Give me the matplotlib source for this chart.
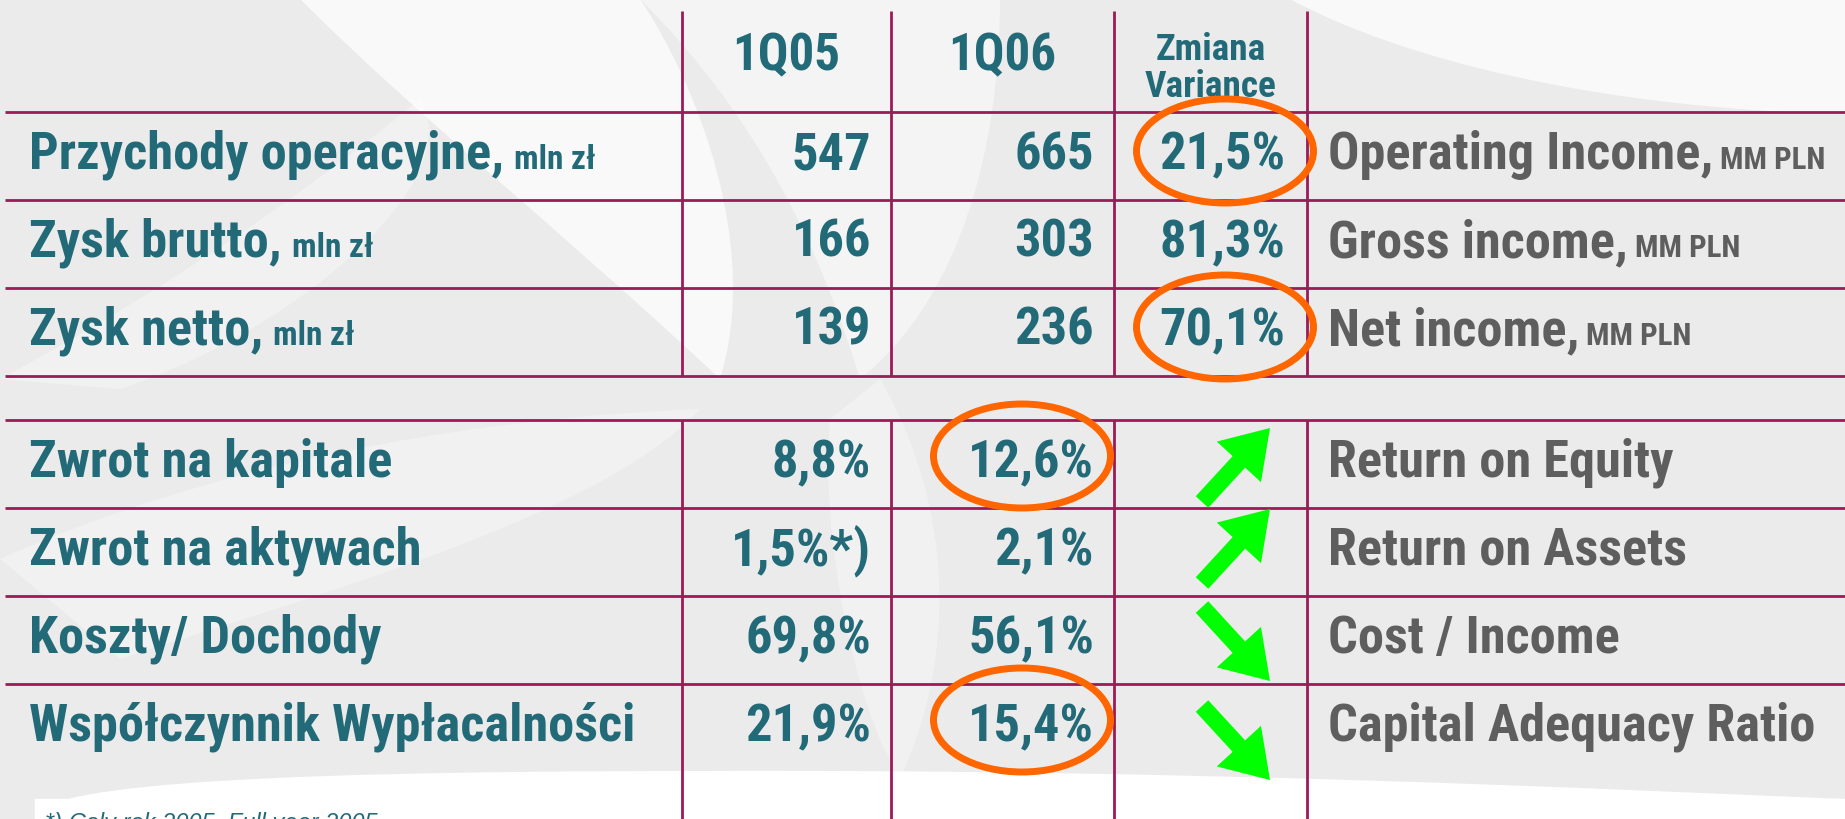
import matplotlib
matplotlib.use("Agg")
import matplotlib.pyplot as plt
from matplotlib.patches import Ellipse, FancyArrow, PathPatch, Rectangle
from matplotlib.path import Path
from matplotlib import font_manager
from matplotlib.font_manager import FontProperties

# ---------------- data ----------------
col_headers = ["1Q05", "1Q06"]
var_header = ["Zmiana", "Variance"]

top_labels_pl = ["Przychody operacyjne,", "Zysk brutto,", "Zysk netto,"]
top_unit_pl = "mln zł"
top_labels_en = ["Operating Income,", "Gross income,", "Net income,"]
top_unit_en = "MM PLN"
top_q05 = ["547", "166", "139"]
top_q06 = ["665", "303", "236"]
top_var = ["21,5%", "81,3%", "70,1%"]
top_var_circled = [True, False, True]

bot_labels_pl = ["Zwrot na kapitale", "Zwrot na aktywach", "Koszty/ Dochody",
                 "Współczynnik Wypłacalności"]
bot_labels_en = ["Return on Equity", "Return on Assets", "Cost / Income",
                 "Capital Adequacy Ratio"]
bot_q05 = ["8,8%", "1,5%*)", "69,8%", "21,9%"]
bot_q06 = ["12,6%", "2,1%", "56,1%", "15,4%"]
bot_trend = ["up", "up", "down", "down"]
bot_q06_circled = [True, False, False, True]

footnote = "*) Cały rok 2005, Full year 2005"

# ---------------- style ----------------
W, H = 1845, 820
TEAL = "#236a79"
GRAY = "#5e5e5e"
LINE = "#9c1b55"
ORANGE = "#ff6600"
GREEN = "#00ff00"


def _w(f):
    if isinstance(f.weight, (int, float)):
        return int(f.weight)
    return {"bold": 700, "normal": 400, "regular": 400, "medium": 500,
            "semibold": 600, "light": 300}.get(str(f.weight).lower(), 400)


def pick_condensed():
    prefs = ["Liberation Sans Narrow", "Arial Narrow", "Roboto Condensed",
             "Open Sans Condensed", "Noto Sans", "Open Sans", "DejaVu Sans",
             "Roboto"]
    cands = []
    for f in font_manager.fontManager.ttflist:
        low = (f.name + " " + f.fname).lower()
        cond = ("narrow" in low or "condensed" in low or "cond" in str(f.stretch))
        if cond and _w(f) >= 650 and f.style == "normal" and "mono" not in low \
                and "extra" not in low and "ultra" not in low and "semi" not in low:
            rank = prefs.index(f.name) if f.name in prefs else len(prefs)
            cands.append((rank, abs(_w(f) - 700), f.fname))
    if cands:
        cands.sort()
        return FontProperties(fname=cands[0][2])
    return FontProperties(family=["Liberation Sans", "DejaVu Sans"], weight="bold")


FP = pick_condensed()

fig = plt.figure(figsize=(W / 100, H / 100), dpi=100)
ax = fig.add_axes([0, 0, 1, 1])
ax.set_xlim(0, W)
ax.set_ylim(H, 0)
ax.axis("off")

fig.canvas.draw()
renderer = fig.canvas.get_renderer()
inv = ax.transData.inverted()

# calibrate size so that the longest label matches the reference width
probe = ax.text(0, 0, "Przychody operacyjne,", fontproperties=FP, fontsize=38)
pw = probe.get_window_extent(renderer).width
probe.remove()
S = min(1.25, 475.0 / pw)

BIG = 38 * S
HEAD = 37 * S
VAR = 27 * S
SMALL_PL = 24 * S
SMALL_EN = 22.5 * S

# ---------------- background ----------------
ax.add_patch(Rectangle((0, 0), W, H, color="#ebebeb", zorder=0))


def blob(pts, color="white", alpha=0.8):
    codes = [Path.MOVETO] + [Path.CURVE4] * (len(pts) - 2) + [Path.CLOSEPOLY]
    ax.add_patch(PathPatch(Path(pts, codes), facecolor=color, edgecolor="none",
                           alpha=alpha, zorder=0.5))


blob([(300, 0), (420, 120), (560, 230), (720, 380),
      (760, 250), (700, 90), (640, 0), (300, 0)], alpha=0.7)
blob([(640, 0), (760, 120), (820, 250), (860, 380),
      (960, 300), (1000, 150), (1000, 0), (640, 0)], alpha=0.45)
blob([(1290, 0), (1400, 60), (1600, 110), (1845, 115),
      (1845, 60), (1845, 20), (1845, 0), (1290, 0)], alpha=0.7)
blob([(0, 380), (150, 300), (300, 200), (420, 100),
      (470, 180), (300, 330), (120, 390), (0, 380)], alpha=0.35)
blob([(0, 560), (200, 470), (450, 420), (700, 410),
      (600, 520), (300, 600), (120, 660), (0, 560)], alpha=0.3)
blob([(880, 380), (950, 500), (960, 650), (900, 780),
      (850, 700), (820, 520), (830, 420), (880, 380)], alpha=0.3)
blob([(35, 820), (35, 790), (200, 772), (700, 772),
      (1200, 770), (1600, 790), (1845, 800), (1845, 820)], alpha=1.0)
ax.add_patch(Rectangle((35, 800), W, 30, color="white", zorder=0.5))

# ---------------- grid ----------------
vx = [682, 891, 1114, 1307]
top_rows = [113, 201, 289, 377]
bot_rows = [421, 509, 597, 685]
lw = 2.0
for x in vx:
    ax.plot([x, x], [12, top_rows[-1]], color=LINE, lw=lw, zorder=2, solid_capstyle="butt")
    ax.plot([x, x], [bot_rows[0], H], color=LINE, lw=lw, zorder=2, solid_capstyle="butt")
for y in top_rows + bot_rows:
    ax.plot([5, W], [y, y], color=LINE, lw=lw, zorder=2, solid_capstyle="butt")

# ---------------- header ----------------
for i, h in enumerate(col_headers):
    ax.text((vx[i] + vx[i + 1]) / 2, 70, h, ha="center", va="baseline",
            fontproperties=FP, fontsize=HEAD, color=TEAL, zorder=3)
ax.text((vx[2] + vx[3]) / 2, 60, var_header[0], ha="center", va="baseline",
        fontproperties=FP, fontsize=VAR, color=TEAL, zorder=3)
ax.text((vx[2] + vx[3]) / 2, 97, var_header[1], ha="center", va="baseline",
        fontproperties=FP, fontsize=VAR, color=TEAL, zorder=3)


def label_with_unit(x, y, main, unit, color, small, gap):
    t = ax.text(x, y, main, ha="left", va="baseline", fontproperties=FP,
                fontsize=BIG, color=color, zorder=3)
    bb = t.get_window_extent(renderer)
    x1 = inv.transform((bb.x1, bb.y0))[0]
    ax.text(x1 + gap, y, unit, ha="left", va="baseline", fontproperties=FP,
            fontsize=small, color=color, zorder=3)


def cell(x, y, s, color=TEAL, ha="right"):
    ax.text(x, y, s, ha=ha, va="baseline", fontproperties=FP, fontsize=BIG,
            color=color, zorder=3)


num_right = [vx[1] - 20, vx[2] - 20, vx[3] - 22]

# ---------------- top block ----------------
for i in range(len(top_labels_pl)):
    base = top_rows[i] + 56
    label_with_unit(29, base, top_labels_pl[i], top_unit_pl, TEAL, SMALL_PL, 10)
    cell(num_right[0], base, top_q05[i])
    cell(num_right[1], base, top_q06[i])
    cell(num_right[2], base, top_var[i])
    label_with_unit(1328, base, top_labels_en[i], top_unit_en, GRAY, SMALL_EN, 7)
    if top_var_circled[i]:
        cy = (top_rows[i] + top_rows[i + 1]) / 2 - 5
        ax.add_patch(Ellipse((1225, cy), 177, 104, fill=False, edgecolor=ORANGE,
                             lw=5, zorder=4))

# ---------------- bottom block ----------------
arrow_off = [1, -6, 4, 15]
for i in range(len(bot_labels_pl)):
    top = bot_rows[i]
    base = top + 56
    cell(29, base, bot_labels_pl[i], ha="left")
    cell(num_right[0], base, bot_q05[i])
    cell(num_right[1], base, bot_q06[i])
    cell(1328, base, bot_labels_en[i], color=GRAY, ha="left")
    if bot_q06_circled[i]:
        ax.add_patch(Ellipse((1022, top + 36), 177, 104, fill=False,
                             edgecolor=ORANGE, lw=5, zorder=4))
    cy = top + 44 + arrow_off[i]
    dx, dy = 68, 74
    if bot_trend[i] == "up":
        x0, y0, ddy = 1202, cy + dy / 2, -dy
    else:
        x0, y0, ddy = 1202, cy - dy / 2, dy
    ax.add_patch(FancyArrow(x0, y0, dx, ddy, width=17, head_width=60,
                            head_length=46, length_includes_head=True,
                            color=GREEN, lw=0, zorder=4))

# ---------------- footnote ----------------
ax.text(45, 830, footnote, ha="left", va="baseline", fontsize=17,
        style="italic", color=TEAL, family=["Liberation Sans", "DejaVu Sans"],
        zorder=3)

fig.savefig("out.png", dpi=100)
